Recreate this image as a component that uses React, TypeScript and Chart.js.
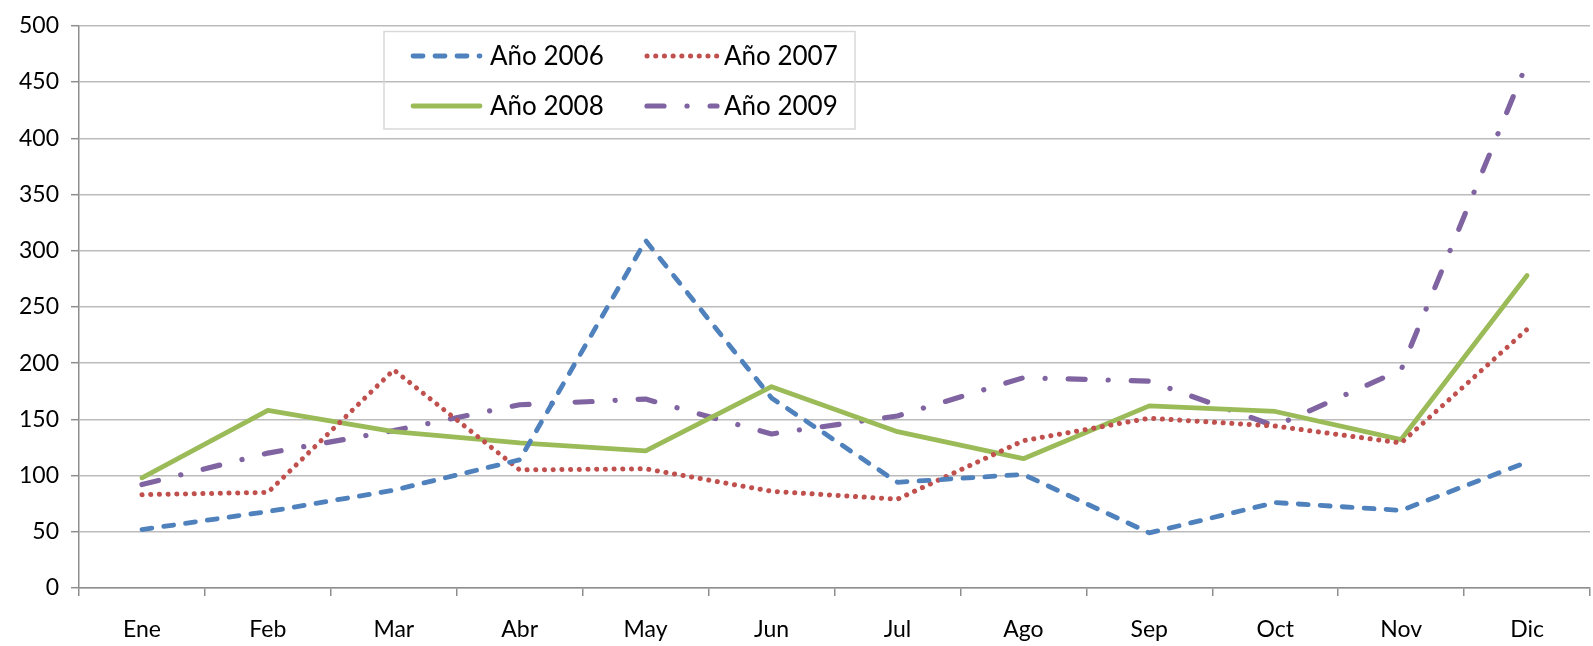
import React, { useEffect, useRef } from "react";
import { Chart, registerables } from "chart.js";

Chart.register(...registerables);

const categories = ["Ene", "Feb", "Mar", "Abr", "May", "Jun", "Jul", "Ago", "Sep", "Oct", "Nov", "Dic"];
const yTicks = [0, 50, 100, 150, 200, 250, 300, 350, 400, 450, 500];
const y2006 = [52, 68, 87, 114, 309, 169, 94, 101, 49, 76, 69, 112];
const y2007 = [83, 85, 194, 105, 106, 86, 79, 131, 151, 144, 129, 230];
const y2008 = [98, 158, 139, 129, 122, 179, 139, 115, 162, 157, 132, 278];
const y2009 = [92, 120, 140, 163, 168, 137, 153, 187, 184, 144, 194, 467];

const FONT = "Lato, 'Open Sans', sans-serif";

const seriesStyles = [
  { label: "Año 2006", data: y2006, color: "#4F81BD", width: 4.8, dash: [10, 12] },
  { label: "Año 2007", data: y2007, color: "#C0504D", width: 5, dash: [0.1, 8.6] },
  { label: "Año 2008", data: y2008, color: "#9BBB59", width: 4.8, dash: [] },
  { label: "Año 2009", data: y2009, color: "#8064A2", width: 5.2, dash: [17, 23, 0.1, 23] },
];

const legendPlugin = {
  id: "insideLegend",
  afterDraw(chart: any) {
    const ctx = chart.ctx;
    ctx.save();
    ctx.strokeStyle = "#D9D9D9";
    ctx.lineWidth = 1.5;
    ctx.strokeRect(384, 31.5, 471, 97.5);
    const pos = [
      { lx0: 413, lx1: 480, tx: 490, y: 56 },
      { lx0: 647, lx1: 717, tx: 724, y: 56 },
      { lx0: 413, lx1: 480, tx: 490, y: 106 },
      { lx0: 647, lx1: 717, tx: 724, y: 106 },
    ];
    chart.data.datasets.forEach((ds: any, i: number) => {
      const p = pos[i];
      ctx.beginPath();
      ctx.setLineDash(ds.borderDash || []);
      ctx.lineCap = "round";
      ctx.strokeStyle = ds.borderColor;
      ctx.lineWidth = ds.borderWidth;
      ctx.moveTo(p.lx0, p.y);
      ctx.lineTo(p.lx1, p.y);
      ctx.stroke();
      ctx.setLineDash([]);
      ctx.fillStyle = "#000";
      ctx.font = `26px ${FONT}`;
      ctx.textBaseline = "middle";
      ctx.textAlign = "left";
      ctx.fillText(ds.label, p.tx, p.y + 1);
    });
    ctx.restore();
  },
};

export default function App() {
  const ref = useRef<HTMLCanvasElement | null>(null);
  useEffect(() => {
    if (!ref.current) return;
    const chart = new Chart(ref.current, {
      type: "line",
      data: {
        labels: categories,
        datasets: seriesStyles.map((s) => ({
          label: s.label,
          data: s.data,
          borderColor: s.color,
          backgroundColor: s.color,
          borderWidth: s.width,
          borderDash: s.dash,
          borderCapStyle: "round",
          borderJoinStyle: "round",
          tension: 0,
          pointRadius: 0,
          pointHoverRadius: 0,
          fill: false,
        })),
      },
      options: {
        animation: false,
        responsive: true,
        maintainAspectRatio: false,
        layout: { padding: { top: 19, right: 3, left: 0, bottom: 0 } },
        plugins: { legend: { display: false }, tooltip: { enabled: false } },
        scales: {
          x: {
            offset: true,
            grid: {
              offset: true,
              drawOnChartArea: false,
              drawTicks: true,
              tickLength: 8,
              color: "#8E8E8E",
              lineWidth: 1.5,
            },
            border: { color: "#8E8E8E", width: 1.5 },
            ticks: {
              color: "#000",
              font: { family: FONT, size: 23 },
              padding: 20,
              maxRotation: 0,
              autoSkip: false,
            },
            afterFit(scale: any) {
              scale.height = 58;
            },
          },
          y: {
            min: 0,
            max: 500,
            afterBuildTicks(scale: any) {
              scale.ticks = yTicks.map((v) => ({ value: v }));
            },
            grid: {
              color: "#BBBBBB",
              lineWidth: 1.4,
              borderDash: [3.5, 2.5],
              tickLength: 8,
              tickColor: "#8E8E8E",
              tickBorderDash: [],
              tickWidth: 1.5,
            },
            border: { color: "#8E8E8E", width: 1.5 },
            ticks: {
              color: "#000",
              font: { family: FONT, size: 23 },
              padding: 12,
            },
            afterFit(scale: any) {
              scale.width = 79;
            },
          },
        },
      },
      plugins: [legendPlugin],
    } as any);
    return () => chart.destroy();
  }, []);
  return (
    <div style={{ position: "fixed", left: 0, top: 0, width: 1593, height: 646, background: "#fff" }}>
      <canvas ref={ref} />
    </div>
  );
}
